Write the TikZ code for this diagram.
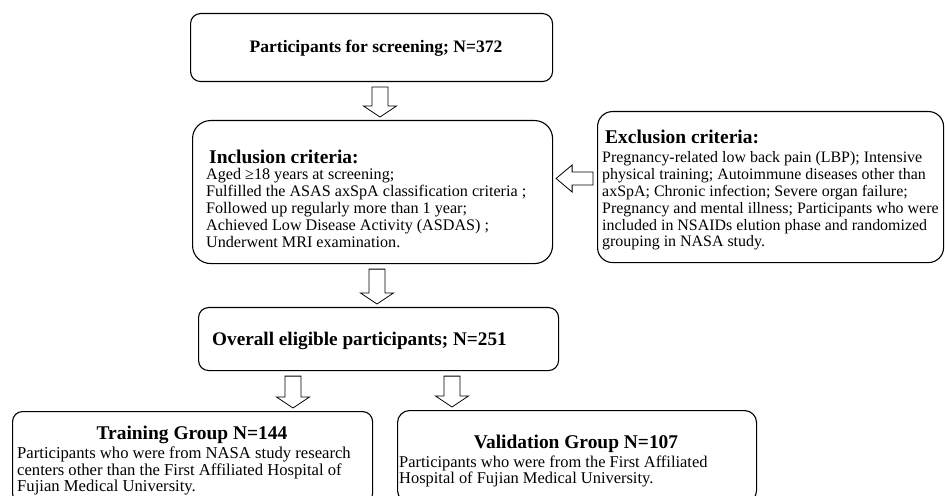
\documentclass[tikz,border=0pt]{standalone}
\usepackage{fontspec}
\setmainfont{Liberation Serif}
\usetikzlibrary{calc}
\tikzset{
  box/.style={draw=black, line width=1.1bp, inner sep=0pt, anchor=north west},
  blockarrow/.style={draw=black, line width=0.8bp, fill=white, line join=miter},
  headA/.style={font=\bfseries\fontsize{19.5}{21}\selectfont, inner sep=0pt, text height=12.9bp, text depth=0pt},
  bodyA/.style={font=\fontsize{16.2}{17}\selectfont, inner sep=0pt, align=left, anchor=north west},
}
\newcommand\blockdown[3]{%
  \draw[blockarrow] let \p1=(#1.south), \p2=(#2.north) in
    (#3-8bp,\y1-5bp) -- (#3+8bp,\y1-5bp) -- (#3+8bp,\y2+14bp) -- (#3+16.5bp,\y2+14bp)
    -- (#3,\y2+3bp) -- (#3-16.5bp,\y2+14bp) -- (#3-8bp,\y2+14bp) -- cycle;}
\begin{document}
\begin{tikzpicture}[x=1bp,y=-1bp]
\useasboundingbox (0,0) rectangle (945,496);
\clip (0,0) rectangle (945,496);
% boxes
\node[box, rounded corners=10bp, minimum width=362bp, minimum height=68bp] (b1) at (190,13) {};
\node[box, rounded corners=18bp, minimum width=360bp, minimum height=143bp] (inc) at (192,120) {};
\node[box, rounded corners=15bp, minimum width=346bp, minimum height=151bp] (ex) at (597,111) {};
\node[box, rounded corners=10bp, minimum width=360bp, minimum height=63bp] (ov) at (198,307) {};
\node[box, rounded corners=10bp, minimum width=360bp, minimum height=92bp] (tr) at (12,411) {};
\node[box, rounded corners=12bp, minimum width=359bp, minimum height=92bp] (va) at (397,410) {};
% texts
\node[font=\bfseries\fontsize{17.6}{19}\selectfont, inner sep=0pt, text height=11.6bp, text depth=0pt] (b1t) at (376,47) {Participants for screening; N=372};
\node[headA, anchor=west] (inch) at (209,157) {Inclusion criteria:};
\node[bodyA] (incb) at (206,168) {Aged ≥18 years at screening;\\Fulfilled the ASAS axSpA classification criteria ;\\Followed up regularly more than 1 year;\\Achieved Low Disease Activity (ASDAS) ;\\Underwent MRI examination.};
\node[headA, anchor=west] (exh) at (605,137) {Exclusion criteria:};
\node[bodyA, font=\fontsize{16}{17}\selectfont] (exb) at (602,151) {Pregnancy-related low back pain (LBP); Intensive\\physical training; Autoimmune diseases other than\\axSpA; Chronic infection; Severe organ failure;\\Pregnancy and mental illness; Participants who were\\included in NSAIDs elution phase and randomized\\grouping in NASA study.};
\node[font=\bfseries\fontsize{19.3}{21}\selectfont, inner sep=0pt, text height=12.8bp, text depth=0pt, anchor=west] (ovt) at (212,339) {Overall eligible participants; N=251};
\node[headA] (trh) at (192,433) {Training Group N=144};
\node[bodyA, font=\fontsize{16.7}{15}\selectfont] (trb) at (17,447) {Participants who were from NASA study research\\centers other than the First Affiliated Hospital of\\Fujian Medical University.};
\node[headA] (vah) at (576,442) {Validation Group N=107};
\node[bodyA, font=\fontsize{16.5}{15}\selectfont] (vab) at (399,455.5) {Participants who were from the First Affiliated\\Hospital of Fujian Medical University.};
% arrows
\blockdown{b1}{inc}{380bp}
\blockdown{inc}{ov}{377bp}
\blockdown{ov}{tr}{293bp}
\blockdown{ov}{va}{452bp}
\draw[blockarrow] let \p1=(ex.west), \p2=(inc.east) in
  (\x1-4bp,-172bp) -- (\x1-4bp,-185bp) -- (\x2+19bp,-185bp) -- (\x2+19bp,-192bp)
  -- (\x2+3bp,-178.5bp) -- (\x2+19bp,-165bp) -- (\x2+19bp,-172bp) -- cycle;
\end{tikzpicture}
\end{document}
